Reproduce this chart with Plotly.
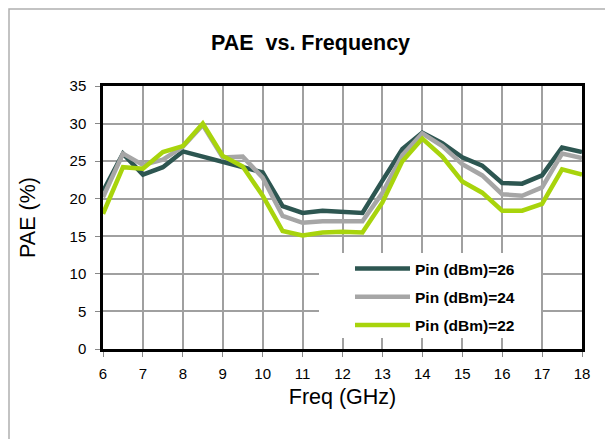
#PAE vs. Frequency chart

import plotly.graph_objects as go

#data
freq = [6, 6.5, 7, 7.5, 8, 8.5, 9, 9.5, 10, 10.5, 11, 11.5, 12,
        12.5, 13, 13.5, 14, 14.5, 15, 15.5, 16, 16.5, 17, 17.5, 18]
pae_26 = [21.0, 26.0, 23.2, 24.2, 26.3, 25.6, 25.0, 24.2, 23.5, 19.0, 18.1, 18.4, 18.3,
          18.1, 22.4, 26.6, 28.8, 27.4, 25.5, 24.4, 22.1, 22.0, 23.1, 26.8, 26.2]
pae_24 = [20.2, 26.0, 24.5, 25.2, 26.9, 29.8, 25.5, 25.6, 22.8, 17.7, 16.8, 17.0, 17.0,
          17.0, 20.8, 25.8, 28.7, 27.0, 24.6, 23.1, 20.6, 20.4, 21.5, 26.0, 25.4]
pae_22 = [18.0, 24.2, 24.0, 26.2, 27.0, 30.0, 25.7, 24.3, 20.4, 15.7, 15.1, 15.5, 15.6,
          15.5, 19.5, 25.0, 28.0, 25.6, 22.3, 20.8, 18.4, 18.4, 19.3, 23.9, 23.2]

series_names = ["Pin (dBm)=26", "Pin (dBm)=24", "Pin (dBm)=22"]
series_colors = ["#2d5651", "#a6a6a6", "#a8d40c"]

# page sits inside the 8px body margin, plot area is 103..582 x 86..349 on the page
def xp(px):
    return (px - 103) / 479

def yp(py):
    return (349 - py) / 263

fig = go.Figure()
for i, (name, vals, col) in enumerate(zip(series_names, [pae_26, pae_24, pae_22], series_colors)):
    fig.add_trace(go.Scatter(x=freq, y=vals, name=name, mode="lines", legendgroup=str(i),
                             line=dict(color=col, width=4.5)))

font_family = "Liberation Sans, Arial, sans-serif"

fig.update_xaxes(range=[6, 18], dtick=1, tick0=6, showgrid=True, gridcolor="#a0a0a0", gridwidth=1.5,
                 showline=True, linecolor="black", linewidth=2.5, mirror=True,
                 ticks="outside", ticklen=5, tickcolor="#888888", ticklabelstandoff=4,
                 tickfont=dict(size=15, color="black"),
                 title=dict(text="Freq (GHz)", font=dict(size=21.5, color="black"), standoff=9),
                 zeroline=False)
fig.update_yaxes(range=[0, 35], dtick=5, showgrid=True, gridcolor="#a0a0a0", gridwidth=1.5,
                 showline=True, linecolor="black", linewidth=2.5, mirror=True,
                 ticks="outside", ticklen=5, tickcolor="#888888", ticklabelstandoff=6,
                 tickfont=dict(size=15, color="black"),
                 title=dict(text="PAE (%)", font=dict(size=21.5, color="black"), standoff=29),
                 zeroline=False)

#white box behind the legend, light grey outer frame
fig.add_shape(type="rect", xref="paper", yref="paper", x0=xp(319), x1=xp(541),
              y0=yp(338), y1=yp(253), fillcolor="white", line_width=0, layer="above")
fig.add_shape(type="rect", xref="paper", yref="paper", x0=xp(9), x1=xp(700),
              y0=yp(600), y1=yp(9), line=dict(color="#b0b0b0", width=1.5), layer="below")

fig.update_layout(
    width=605, height=431,
    margin=dict(l=95, r=31, t=78, b=90),
    paper_bgcolor="white", plot_bgcolor="white",
    font=dict(family=font_family, color="black"),
    title=dict(text="<b>PAE  vs. Frequency</b>", font=dict(size=21.5, color="black"),
               x=(310.5 - 8) / 605, xref="container", y=1 - (42 - 8) / 431, yref="container",
               xanchor="center", yanchor="middle"),
    legend=dict(x=xp(350), y=yp(252), xanchor="left", yanchor="top",
                bgcolor="rgba(0,0,0,0)", font=dict(size=15.5, color="black", family=font_family),
                traceorder="grouped", tracegroupgap=5, itemwidth=55),
    showlegend=True,
)
fig.update_layout(legend_font_weight="bold")

fig.write_html("out.html")
